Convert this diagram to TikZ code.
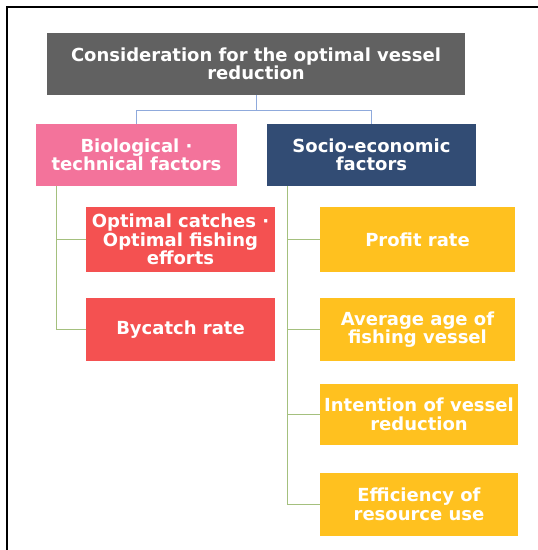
\documentclass[tikz,border=0pt]{standalone}
\usepackage{fontspec}
\setmainfont{DejaVu Sans}
\begin{document}
\begin{tikzpicture}[x=1pt,y=-1pt,
  box/.style={draw=none,text=white,align=center,inner sep=0pt,
    font=\bfseries\fontsize{18}{18.5}\selectfont},
  conn/.style={line width=1pt}]
\definecolor{cgrey}{HTML}{616161}
\definecolor{cpink}{HTML}{F3739B}
\definecolor{cnavy}{HTML}{324C74}
\definecolor{cred}{HTML}{F45151}
\definecolor{cyel}{HTML}{FFC11F}
\definecolor{cblue}{HTML}{8FAADC}
\definecolor{cgreen}{HTML}{A4C07E}
\useasboundingbox (0,0) rectangle (538,550);
\fill[white] (0,0) rectangle (538,550);
\draw[line width=2pt,black] (7,550) -- (7,7) -- (538,7);
\node[box,fill=cgrey,minimum width=418pt,minimum height=62pt] (top) at (256,64) {Consideration for the optimal vessel\\reduction};
\node[box,fill=cpink,minimum width=201pt,minimum height=62pt] (bio) at (136.5,155) {Biological ·\\technical factors};
\node[box,fill=cnavy,minimum width=209pt,minimum height=62pt] (soc) at (371.5,155) {Socio-economic\\factors};
\node[box,fill=cred,minimum width=189pt,minimum height=65pt] (r1) at (180.5,239.5) {Optimal catches ·\\Optimal fishing\\efforts};
\node[box,fill=cred,minimum width=189pt,minimum height=63pt] (r2) at (180.5,329.5) {Bycatch rate};
\node[box,fill=cyel,minimum width=195pt,minimum height=65pt] (y1) at (417.5,239.5) {Profit rate};
\node[box,fill=cyel,minimum width=195pt,minimum height=63pt] (y2) at (417.5,329.5) {Average age of\\fishing vessel};
\node[box,fill=cyel,minimum width=198pt,minimum height=61pt] (y3) at (419,414.5) {Intention of vessel\\reduction};
\node[box,fill=cyel,minimum width=198pt,minimum height=63pt] (y4) at (419,504.5) {Efficiency of\\resource use};
\coordinate (jt) at ([yshift=-15pt]top.south);
\draw[cblue,conn] (top.south) -- (jt);
\draw[cblue,conn] (jt -| bio.north) -- (jt -| soc.north);
\draw[cblue,conn] (jt -| bio.north) -- (bio.north);
\draw[cblue,conn] (jt -| soc.north) -- (soc.north);
\coordinate (bl) at ([xshift=21pt]bio.south west);
\coordinate (sl) at ([xshift=21pt]soc.south west);
\draw[cgreen,conn] (bl) |- (r1.west);
\draw[cgreen,conn] (bl) |- (r2.west);
\draw[cgreen,conn] (sl) |- (y1.west);
\draw[cgreen,conn] (sl) |- (y2.west);
\draw[cgreen,conn] (sl) |- (y3.west);
\draw[cgreen,conn] (sl) |- (y4.west);
\end{tikzpicture}
\end{document}
